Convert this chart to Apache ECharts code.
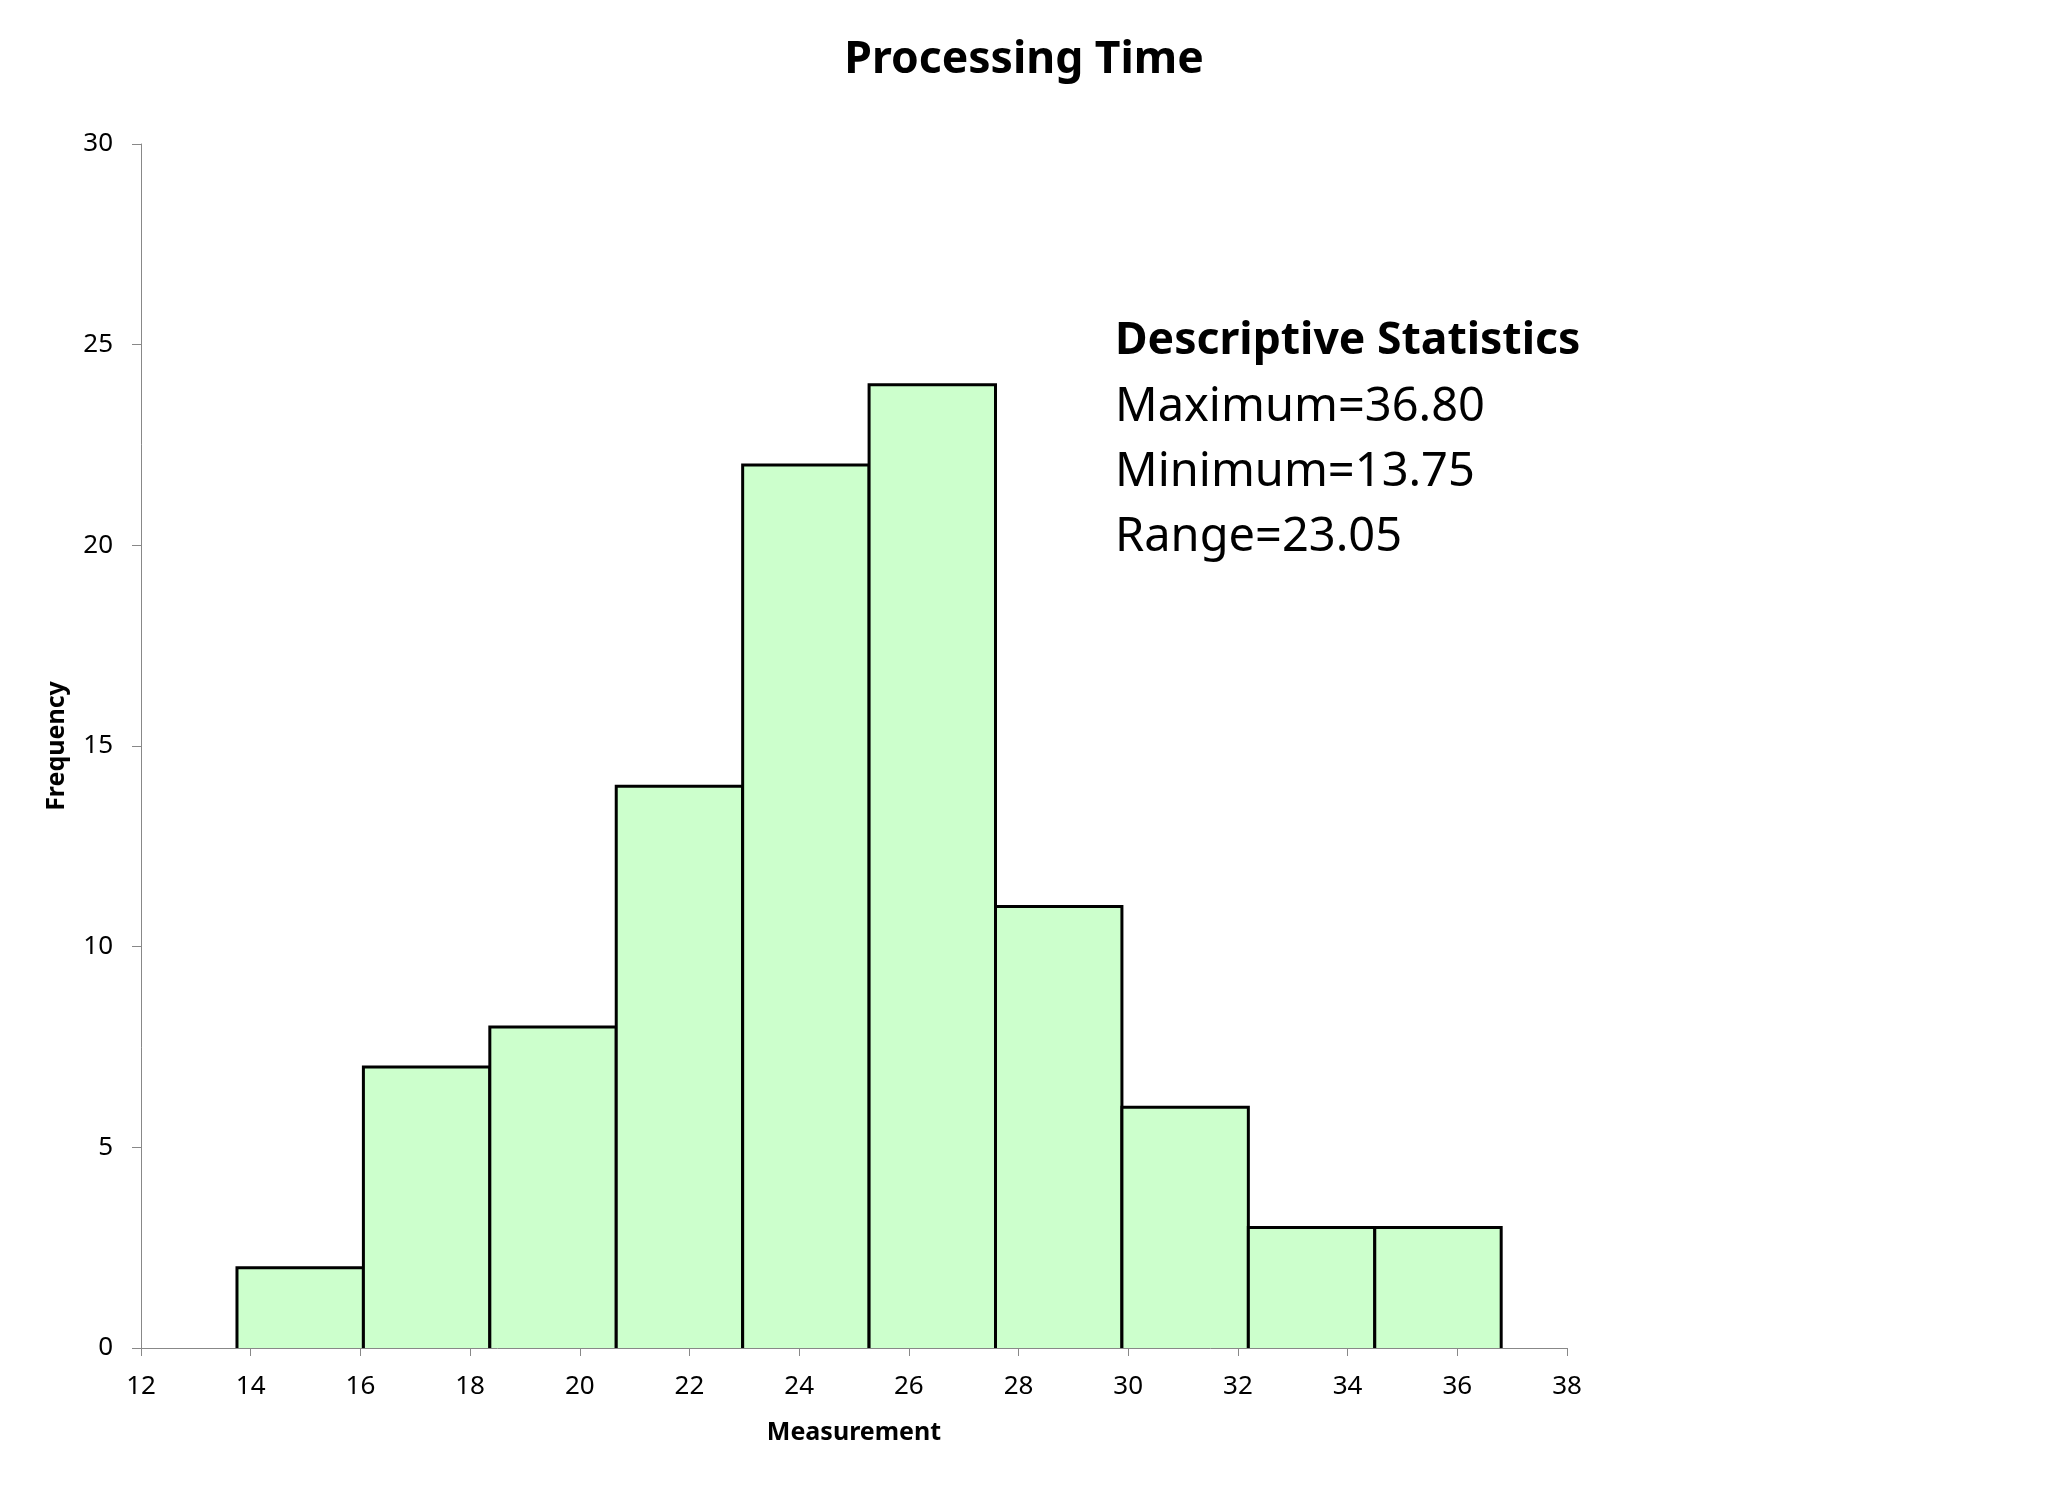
<!DOCTYPE html>
<html>
<head>
<meta charset="utf-8">
<script src="https://cdn.jsdelivr.net/npm/echarts@6/dist/echarts.min.js"></script>
<style>
html,body{margin:0;padding:0;background:#fff;}
#chart{width:2048px;height:1487px;}
</style>
</head>
<body>
<div id="chart"></div>
<script>
const binEdges = [13.75, 16.055, 18.36, 20.665, 22.97, 25.275, 27.58, 29.885, 32.19, 34.495, 36.80];
const frequencies = [2, 7, 8, 14, 22, 24, 11, 6, 3, 3];
const statsTitle = 'Descriptive Statistics';
const statsLines = ['Maximum=36.80', 'Minimum=13.75', 'Range=23.05'];

const FONT = '"Noto Sans", "Open Sans", sans-serif';
const data = frequencies.map((f, i) => [binEdges[i], binEdges[i + 1], f]);

const chart = echarts.init(document.getElementById('chart'));
chart.setOption({
  backgroundColor: '#ffffff',
  animation: false,
  title: {
    text: 'Processing Time',
    left: 'center',
    top: 33,
    textStyle: { fontFamily: FONT, fontSize: 44.5, fontWeight: 'bold', color: '#000' }
  },
  grid: { left: 141, right: 481, top: 144, bottom: 139, containLabel: false },
  xAxis: {
    type: 'value', min: 12, max: 38, interval: 2,
    name: 'Measurement', nameLocation: 'middle', nameGap: 72,
    nameTextStyle: { fontFamily: FONT, fontSize: 25, fontWeight: 'bold', color: '#000' },
    axisLine: { show: true, onZero: false, lineStyle: { color: '#888', width: 1 } },
    axisTick: { show: true, length: 8, lineStyle: { color: '#888' } },
    axisLabel: { margin: 26, fontFamily: FONT, fontSize: 26, color: '#000' },
    splitLine: { show: false }
  },
  yAxis: {
    type: 'value', min: 0, max: 30, interval: 5,
    name: 'Frequency', nameLocation: 'middle', nameGap: 72, nameRotate: 90,
    nameTextStyle: { fontFamily: FONT, fontSize: 25, fontWeight: 'bold', color: '#000' },
    axisLine: { show: true, lineStyle: { color: '#888', width: 1 } },
    axisTick: { show: true, length: 9, lineStyle: { color: '#888' } },
    axisLabel: { margin: 28, fontFamily: FONT, fontSize: 26, color: '#000' },
    splitLine: { show: false }
  },
  series: [{
    type: 'custom',
    data: data,
    encode: { x: [0, 1], y: 2 },
    z: 1,
    renderItem: function (params, api) {
      const x0 = api.value(0), x1 = api.value(1), h = api.value(2);
      const bl = api.coord([x0, 0]);
      const tl = api.coord([x0, h]);
      const tr = api.coord([x1, h]);
      const br = api.coord([x1, 0]);
      return {
        type: 'group',
        children: [
          { type: 'rect', shape: { x: tl[0], y: tl[1], width: tr[0] - tl[0], height: bl[1] - tl[1] },
            style: { fill: '#CCFFCC', stroke: null } },
          { type: 'polyline', shape: { points: [bl, tl, tr, br] },
            style: { fill: null, stroke: '#000', lineWidth: 3 } }
        ]
      };
    }
  }],
  graphic: [
    { type: 'text', left: 1115, top: 319, style: { text: statsTitle, font: 'bold 44.5px ' + FONT, fill: '#000' } },
    { type: 'text', left: 1115, top: 384, style: { text: statsLines[0], font: '47px ' + FONT, fill: '#000' } },
    { type: 'text', left: 1115, top: 449, style: { text: statsLines[1], font: '47px ' + FONT, fill: '#000' } },
    { type: 'text', left: 1115, top: 514, style: { text: statsLines[2], font: '47px ' + FONT, fill: '#000' } }
  ]
});
</script>
</body>
</html>
